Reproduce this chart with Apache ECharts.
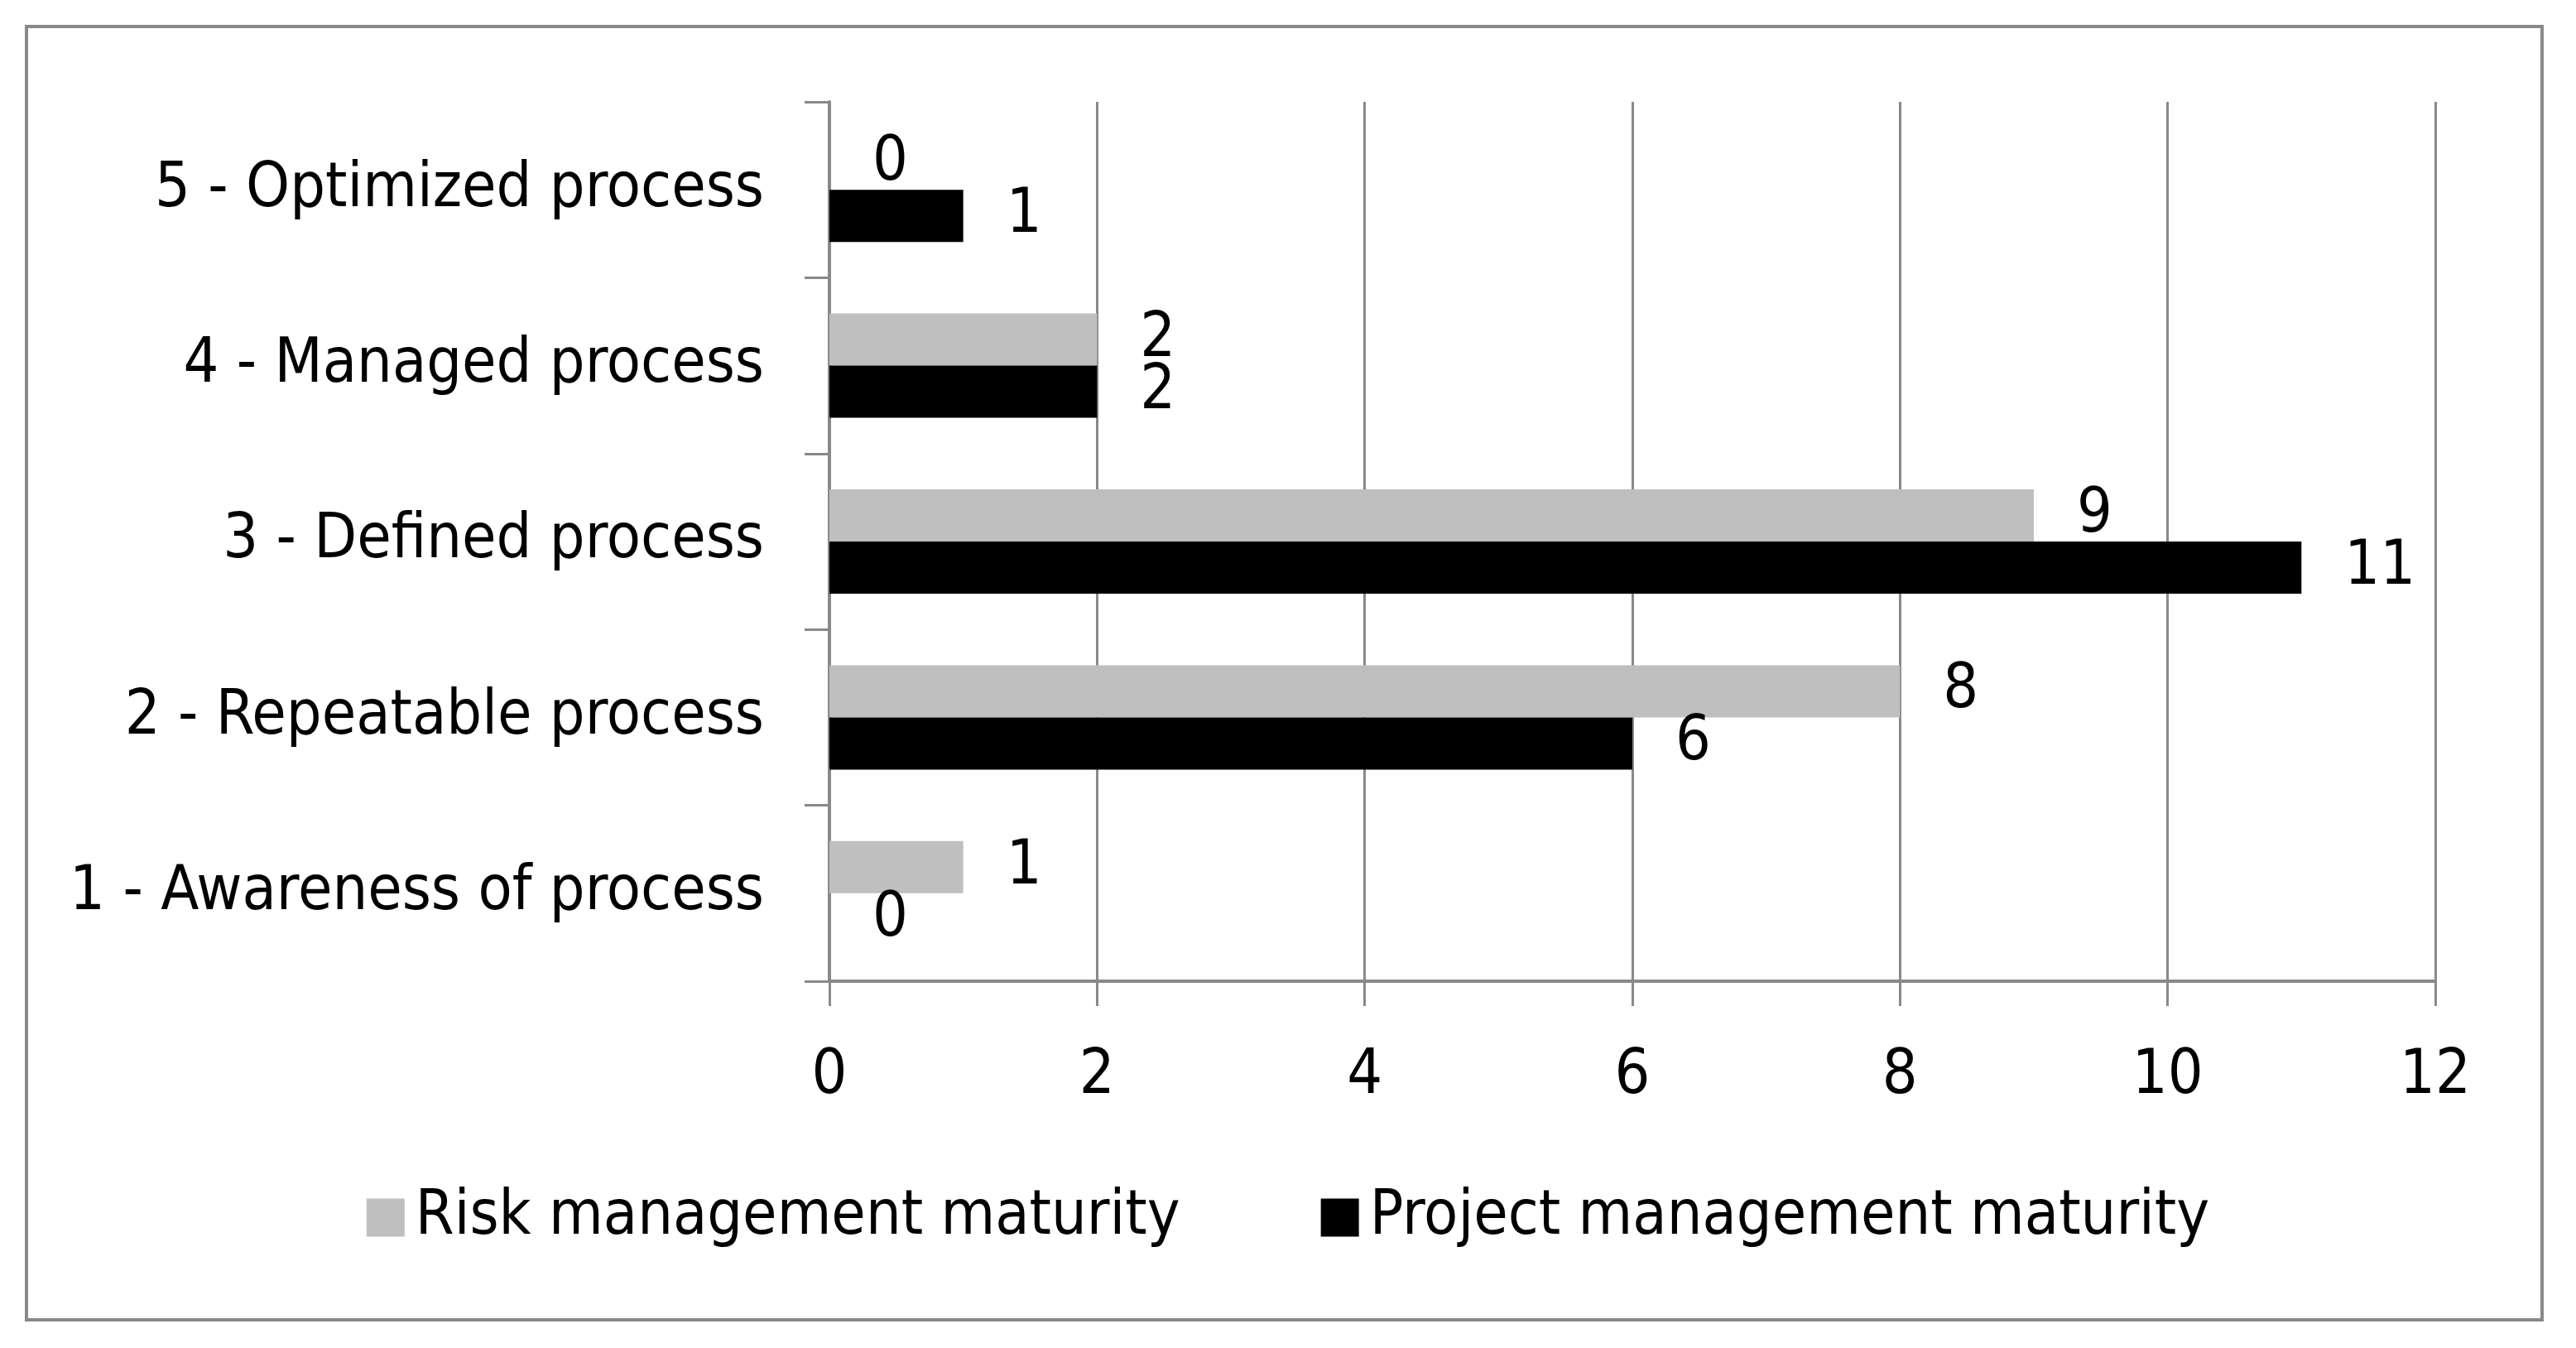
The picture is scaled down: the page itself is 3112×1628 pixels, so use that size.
<!DOCTYPE html>
<html>
<head>
<meta charset="utf-8">
<script src="https://cdn.jsdelivr.net/npm/echarts@6/dist/echarts.min.js"></script>
<style>
html,body{margin:0;padding:0;background:#fff;}
#chart{width:3112px;height:1628px;}
</style>
</head>
<body>
<div id="chart"></div>
<script>
const categories = ['1 - Awareness of process','2 - Repeatable process','3 - Defined process','4 - Managed process','5 - Optimized process'];
const riskValues = [1, 8, 9, 2, 0];
const projectValues = [0, 6, 11, 2, 1];
const seriesNames = ['Risk management maturity','Project management maturity'];
const xTicks = [0, 2, 4, 6, 8, 10, 12];

const FONT = '"Liberation Sans Narrow", "DejaVu Sans Condensed", "Liberation Sans", sans-serif';
const FS = 75;
const GRAY = '#898989';

const chart = echarts.init(document.getElementById('chart'));
const labelCfg = {show: true, position: 'right', distance: 52, color: '#000', fontSize: FS, fontFamily: FONT};
chart.setOption({
  animation: false,
  backgroundColor: '#fff',
  graphic: [{
    type: 'rect', shape: {x: 32, y: 32, width: 3039, height: 1562},
    style: {fill: 'none', stroke: GRAY, lineWidth: 4}, silent: true
  }],
  grid: {left: 1002, right: 170, top: 123, bottom: 443, containLabel: false},
  legend: {
    data: seriesNames,
    bottom: 115, left: 'center',
    icon: 'rect', itemWidth: 46, itemHeight: 46, itemGap: 170,
    textStyle: {fontSize: FS, fontFamily: FONT, color: '#000', padding: [0,0,0,8]}
  },
  xAxis: {
    type: 'value', min: xTicks[0], max: xTicks[xTicks.length-1], interval: 2,
    axisLine: {show: true, lineStyle: {color: GRAY, width: 4}},
    axisTick: {show: true, length: 30, lineStyle: {color: GRAY, width: 3}},
    axisLabel: {fontSize: FS, fontFamily: FONT, color: '#000', margin: 78},
    splitLine: {show: true, lineStyle: {color: GRAY, width: 3}}
  },
  yAxis: {
    type: 'category', data: categories,
    axisLine: {show: true, lineStyle: {color: GRAY, width: 4}},
    axisTick: {show: true, length: 30, lineStyle: {color: GRAY, width: 3}},
    axisLabel: {fontSize: FS, fontFamily: FONT, color: '#000', margin: 79}
  },
  series: [
    {name: seriesNames[0], type: 'bar', data: riskValues, barWidth: 63, barGap: '0%',
     itemStyle: {color: '#BFBFBF'}, label: labelCfg},
    {name: seriesNames[1], type: 'bar', data: projectValues, barWidth: 63, barGap: '0%',
     itemStyle: {color: '#000000'}, label: labelCfg}
  ]
});
</script>
</body>
</html>
